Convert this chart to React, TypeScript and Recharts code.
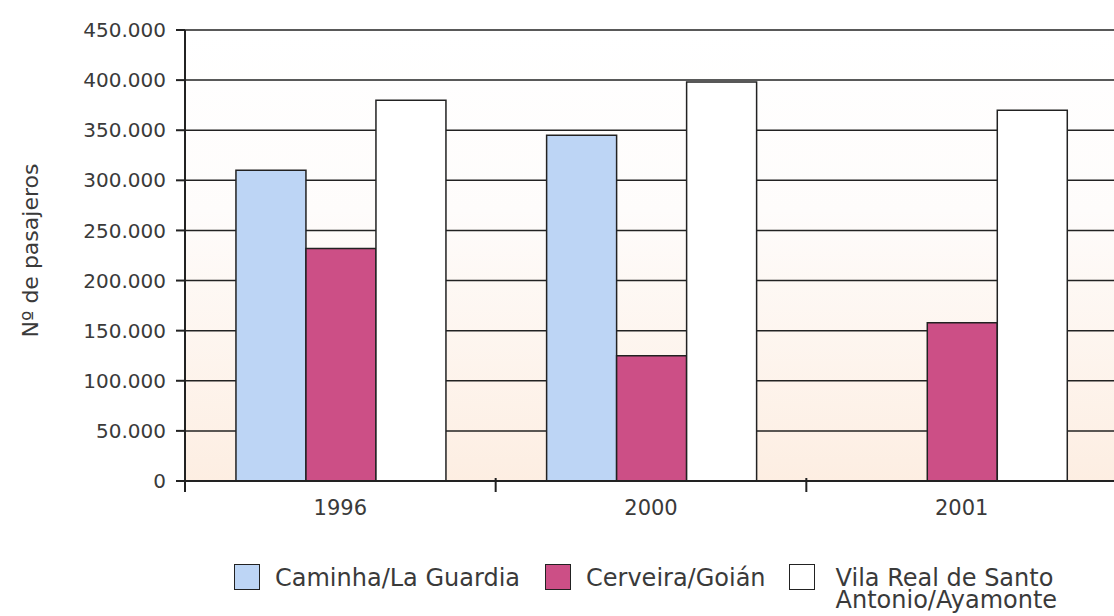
import React from 'react';
import { BarChart, Bar, XAxis, YAxis, CartesianGrid, Legend, Label } from 'recharts';

const years = ['1996', '2000', '2001'];
const caminha = [310000, 345000, null];
const cerveira = [232000, 125000, 158000];
const vilaReal = [380000, 398000, 370000];
const yTicks = [0, 50000, 100000, 150000, 200000, 250000, 300000, 350000, 400000, 450000];

const seriesNames = ['Caminha/La Guardia', 'Cerveira/Goián', 'Vila Real de Santo\nAntonio/Ayamonte'];
const seriesColors = ['#bdd5f5', '#cc4f86', '#ffffff'];

const data = years.map((y, i) => ({
  year: y,
  caminha: caminha[i],
  cerveira: cerveira[i],
  vilaReal: vilaReal[i],
}));

const FONT = '"DejaVu Sans", sans-serif';
const TEXT = '#3a3a3a';
const LINE = '#222';

const fmt = (v: number) => String(v).replace(/\B(?=(\d{3})+(?!\d))/g, '.');

const XTick = (props: any) => {
  const { x, y, payload, width } = props;
  const off = payload && typeof payload.offset === 'number' ? payload.offset : (width || 932) / 6;
  const isLast = payload && payload.index === years.length - 1;
  return (
    <g>
      <line x1={x - off} x2={x - off} y1={y - 3} y2={y + 11} stroke={LINE} strokeWidth={2} />
      {isLast && <line x1={x + off} x2={x + off} y1={y - 3} y2={y + 11} stroke={LINE} strokeWidth={2} />}
      <text x={x} y={y + 34} textAnchor="middle" fill={TEXT} fontSize={21} fontFamily={FONT}>
        {payload.value}
      </text>
    </g>
  );
};

const LegendContent = (props: any) => {
  const { payload } = props;
  const gaps = [0, 25, 23];
  return (
    <div style={{ height: 85, boxSizing: 'border-box', paddingTop: 33, paddingLeft: 234, display: 'flex', alignItems: 'flex-start', fontFamily: FONT, fontSize: 24, color: TEXT }}>
      {(payload || []).map((p: any, i: number) => (
        <div key={i} style={{ display: 'flex', alignItems: 'flex-start', marginLeft: gaps[i] }}>
          <div style={{ width: 26, height: 26, background: p.color, border: `1.5px solid ${LINE}`, boxSizing: 'border-box', marginRight: i === 2 ? 21 : 15, flexShrink: 0 }} />
          <div style={{ whiteSpace: 'pre', lineHeight: '22px', marginTop: 3 }}>{p.value}</div>
        </div>
      ))}
    </div>
  );
};

export default function App() {
  return (
    <div style={{ position: 'absolute', left: 0, top: 0, width: 1114, height: 616, overflow: 'hidden', background: '#fff' }}>
      <BarChart
        width={1117}
        height={616}
        data={data}
        margin={{ top: 30, right: 0, left: 0, bottom: 0 }}
        barCategoryGap="16.4%"
        barGap={0}
      >
        <defs>
          <linearGradient id="plotBg" x1="0" y1="0" x2="0" y2="1">
            <stop offset="0%" stopColor="#ffffff" />
            <stop offset="40%" stopColor="#fefcfb" />
            <stop offset="100%" stopColor="#fdeee2" />
          </linearGradient>
        </defs>
        <CartesianGrid vertical={false} stroke={LINE} strokeWidth={1.5} fill="url(#plotBg)" fillOpacity={1} />
        <XAxis
          dataKey="year"
          height={50}
          tickSize={0}
          tickMargin={0}
          tickLine={false}
          axisLine={{ stroke: LINE, strokeWidth: 2 }}
          tick={<XTick />}
          interval={0}
        />
        <YAxis
          width={185}
          domain={[0, 450000]}
          ticks={yTicks}
          tickFormatter={fmt}
          tickSize={9}
          tickMargin={10}
          axisLine={{ stroke: LINE, strokeWidth: 2 }}
          tickLine={{ stroke: LINE, strokeWidth: 2 }}
          tick={{ fill: TEXT, fontSize: 20, fontFamily: FONT }}
          interval={0}
        >
          <Label
            content={(p: any) => {
              const vb = p.viewBox || { x: 0, y: 30, height: 451 };
              const cx = 30;
              const cy = vb.y + vb.height / 2 - 5;
              return (
                <text x={cx} y={cy} transform={`rotate(-90, ${cx}, ${cy})`} textAnchor="middle" dominantBaseline="central" fill={TEXT} fontSize={22} fontFamily={FONT}>
                  Nº de pasajeros
                </text>
              );
            }}
          />
        </YAxis>
        <Legend verticalAlign="bottom" align="left" content={<LegendContent />} wrapperStyle={{ left: 0, width: 1117 }} />
        <Bar dataKey="caminha" name={seriesNames[0]} fill={seriesColors[0]} stroke={LINE} strokeWidth={1.5} isAnimationActive={false} />
        <Bar dataKey="cerveira" name={seriesNames[1]} fill={seriesColors[1]} stroke={LINE} strokeWidth={1.5} isAnimationActive={false} />
        <Bar dataKey="vilaReal" name={seriesNames[2]} fill={seriesColors[2]} stroke={LINE} strokeWidth={1.5} isAnimationActive={false} />
      </BarChart>
    </div>
  );
}
